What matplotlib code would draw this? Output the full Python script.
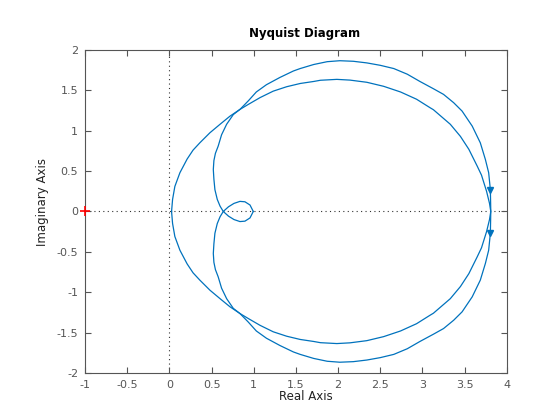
import numpy as np
import matplotlib
matplotlib.use('Agg')
import matplotlib.pyplot as plt

# positive frequency branch (real, imag)
pos_re = [0.994, 0.955, 0.895, 0.836, 0.765, 0.700, 0.638, 0.600, 0.567, 0.539,
          0.527, 0.520, 0.527, 0.545, 0.578, 0.618, 0.678, 0.757, 0.836, 0.935,
          1.074, 1.230, 1.390, 1.550, 1.710, 1.790, 1.985, 2.140, 2.340, 2.540,
          2.740, 2.930, 3.090, 3.130, 3.330, 3.450, 3.550, 3.650, 3.700, 3.760,
          3.795, 3.810,
          3.808, 3.805, 3.785, 3.746, 3.686, 3.590, 3.470, 3.370, 3.250, 3.130,
          2.970, 2.820, 2.660, 2.500, 2.340, 2.180, 2.020, 1.870, 1.710, 1.550,
          1.470, 1.310, 1.150, 1.030, 0.935, 0.836, 0.717, 0.600, 0.480, 0.360,
          0.280, 0.210, 0.124, 0.064, 0.037, 0.025]
pos_im = [0.000, -0.080, -0.120, -0.125, -0.100, -0.058, 0.000, 0.066, 0.149, 0.270,
          0.400, 0.520, 0.630, 0.720, 0.810, 0.950, 1.080, 1.200, 1.264, 1.326,
          1.410, 1.490, 1.545, 1.585, 1.610, 1.625, 1.636, 1.627, 1.600, 1.550,
          1.480, 1.390, 1.285, 1.260, 1.080, 0.930, 0.770, 0.560, 0.450, 0.250,
          0.100, 0.000,
          -0.120, -0.270, -0.480, -0.644, -0.850, -1.057, -1.243, -1.347, -1.450, -1.520,
          -1.610, -1.700, -1.770, -1.810, -1.840, -1.860, -1.867, -1.855, -1.820, -1.770,
          -1.740, -1.660, -1.570, -1.480, -1.370, -1.264, -1.180, -1.080, -0.975, -0.850,
          -0.760, -0.650, -0.480, -0.310, -0.149, 0.000]
arrow_idx = 43  # point on the outer arc where the arrow sits

xticks = [-1, -0.5, 0, 0.5, 1, 1.5, 2, 2.5, 3, 3.5, 4]
xtick_labels = ['-1', '-0.5', '0', '0.5', '1', '1.5', '2', '2.5', '3', '3.5', '4']
yticks = [-2, -1.5, -1, -0.5, 0, 0.5, 1, 1.5, 2]
ytick_labels = ['-2', '-1.5', '-1', '-0.5', '0', '0.5', '1', '1.5', '2']

re = np.array(pos_re)
im = np.array(pos_im)
blue = '#0072bd'
grey = '#555555'

fig = plt.figure(figsize=(5.6, 4.2), dpi=100)
ax = fig.add_axes([0.152, 0.112, 0.753, 0.769])

ax.axhline(0, color='#333333', lw=0.8, ls=(0, (1, 3)), zorder=1)
ax.axvline(0, color='#333333', lw=0.8, ls=(0, (1, 3)), zorder=1)

ax.plot(re, im, color=blue, lw=0.9, zorder=2)
ax.plot(re, -im, color=blue, lw=0.9, zorder=2)
ax.plot(re[arrow_idx], im[arrow_idx], marker='v', color=blue, ms=5, zorder=3)
ax.plot(re[arrow_idx], -im[arrow_idx], marker='v', color=blue, ms=5, zorder=3)
ax.plot(-1, 0, marker='+', color='red', ms=7, mew=1.2, zorder=4, clip_on=False)

ax.set_xlim(-1, 4)
ax.set_ylim(-2, 2)
ax.set_xticks(xticks)
ax.set_xticklabels(xtick_labels)
ax.set_yticks(yticks)
ax.set_yticklabels(ytick_labels)
ax.tick_params(direction='in', length=4, width=0.8, colors=grey, labelsize=8,
               top=True, right=True, pad=5)
for s in ax.spines.values():
    s.set_color(grey)
    s.set_linewidth(0.8)

ax.set_title('Nyquist Diagram', fontsize=8.5, fontweight='bold', x=0.52, pad=9)
ax.set_xlabel('Real Axis', fontsize=8.5, color='#222222')
ax.xaxis.set_label_coords(0.524, -0.052)
ax.set_ylabel('Imaginary Axis', fontsize=8.5, color='#222222')
ax.yaxis.set_label_coords(-0.085, 0.53)

fig.savefig('out.png', dpi=100)
